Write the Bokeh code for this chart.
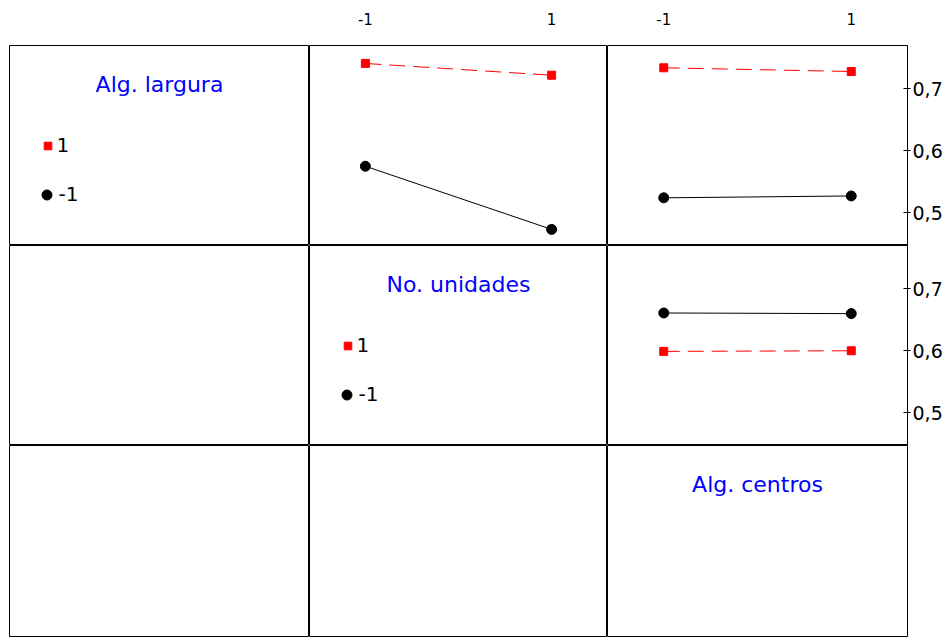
import numpy as np
from bokeh.plotting import figure
from bokeh.layouts import gridplot
from bokeh.models import Range1d, Label, Legend, LegendItem, FixedTicker
from bokeh.embed import file_html
from bokeh.resources import INLINE

# ---- data ----
factors = ["Alg. largura", "No. unidades", "Alg. centros"]
levels = [-1, 1]
level_labels = ["-1", "1"]
y_ticks = [0.5, 0.6, 0.7]
y_tick_labels = ["0,5", "0,6", "0,7"]

# mean response: trace factor level 1 (red) and -1 (black) over x levels -1, 1
largura_vs_unidades_1 = [0.741, 0.722]
largura_vs_unidades_m1 = [0.575, 0.473]
largura_vs_centros_1 = [0.734, 0.728]
largura_vs_centros_m1 = [0.524, 0.527]
unidades_vs_centros_1 = [0.599, 0.600]
unidades_vs_centros_m1 = [0.661, 0.660]

cells = {
    (0, 1): (largura_vs_unidades_1, largura_vs_unidades_m1),
    (0, 2): (largura_vs_centros_1, largura_vs_centros_m1),
    (1, 2): (unidades_vs_centros_1, unidades_vs_centros_m1),
}

col_w = [300, 298, 300]
row_h = [200, 200, 192]
X0, X1 = -1.6, 1.6
Y0, Y1 = 0.447, 0.770

FONT = "DejaVu Sans"
RED = "#ff0000"
BLUE = "#0000ff"


def make_fig(r, c):
    p = figure(frame_width=col_w[c], frame_height=row_h[r],
               x_range=Range1d(X0, X1), y_range=Range1d(Y0, Y1),
               tools="", toolbar_location=None, output_backend="svg",
               x_axis_location="above" if (r == 0 and c > 0) else None,
               y_axis_location="right" if (c == 2 and r < 2) else None,
               min_border=0)
    p.min_border_left = 9 if c == 0 else 0
    p.min_border_top = 45 if r == 0 else 0
    p.min_border_right = 36 if c == 2 else 0
    p.min_border_bottom = 0
    p.background_fill_color = "white"
    p.border_fill_color = "white"
    p.grid.visible = False
    p.outline_line_color = "black"
    p.outline_line_width = 1
    p.outline_line_alpha = 1

    if r == 0 and c > 0:
        ax = p.xaxis[0]
        ax.ticker = FixedTicker(ticks=levels)
        ax.major_label_overrides = dict(zip(levels, level_labels))
        ax.axis_line_color = None
        ax.major_tick_line_color = None
        ax.minor_tick_line_color = None
        ax.major_label_text_font = FONT
        ax.major_label_text_font_size = "15px"
        ax.major_label_text_color = "black"
        ax.major_label_standoff = 15
    if c == 2 and r < 2:
        ay = p.yaxis[0]
        ay.ticker = FixedTicker(ticks=y_ticks)
        ay.major_label_overrides = dict(zip(y_ticks, y_tick_labels))
        ay.axis_line_color = "black"
        ay.major_tick_line_color = "black"
        ay.major_tick_in = 4
        ay.major_tick_out = 3
        ay.minor_tick_line_color = None
        ay.major_label_text_font = FONT
        ay.major_label_text_font_size = "19px"
        ay.major_label_text_color = "black"
        ay.major_label_standoff = 2

    if (r, c) in cells:
        hi, lo = cells[(r, c)]
        p.line(levels, hi, line_color=RED, line_width=1, line_dash="16 8")
        p.scatter(levels, hi, marker="square", size=8, fill_color=RED, line_color=RED)
        p.line(levels, lo, line_color="black", line_width=1)
        p.scatter(levels, lo, marker="circle", size=10, fill_color="black", line_color="black")

    if r == c:
        p.add_layout(Label(x=col_w[c] / 2, y=row_h[r] - 39, x_units="screen", y_units="screen",
                           text=factors[r], text_align="center", text_baseline="middle",
                           text_font=FONT, text_font_size="22px", text_color=BLUE))
        if r < 2:
            nan = np.array([np.nan])
            r_hi = p.scatter(nan, nan, marker="square", size=8, fill_color=RED, line_color=RED)
            r_lo = p.scatter(nan, nan, marker="circle", size=10, fill_color="black", line_color="black")
            common = dict(padding=0, margin=0, spacing=0, border_line_color=None,
                          background_fill_alpha=0, label_text_font=FONT,
                          label_text_font_size="20px", label_text_color="black",
                          label_height=25, glyph_height=25)
            leg_hi = Legend(items=[LegendItem(label=level_labels[1], renderers=[r_hi])],
                            location=(28.5, 87.5), glyph_width=19, label_standoff=0, **common)
            leg_lo = Legend(items=[LegendItem(label=level_labels[0], renderers=[r_lo])],
                            location=(24.5, 38.5), glyph_width=25, label_standoff=-3, **common)
            p.add_layout(leg_hi)
            p.add_layout(leg_lo)
    return p


figs = [[make_fig(r, c) for c in range(3)] for r in range(3)]
grid = gridplot(figs, toolbar_location=None)

open("out.html", "w").write(file_html(grid, INLINE))
